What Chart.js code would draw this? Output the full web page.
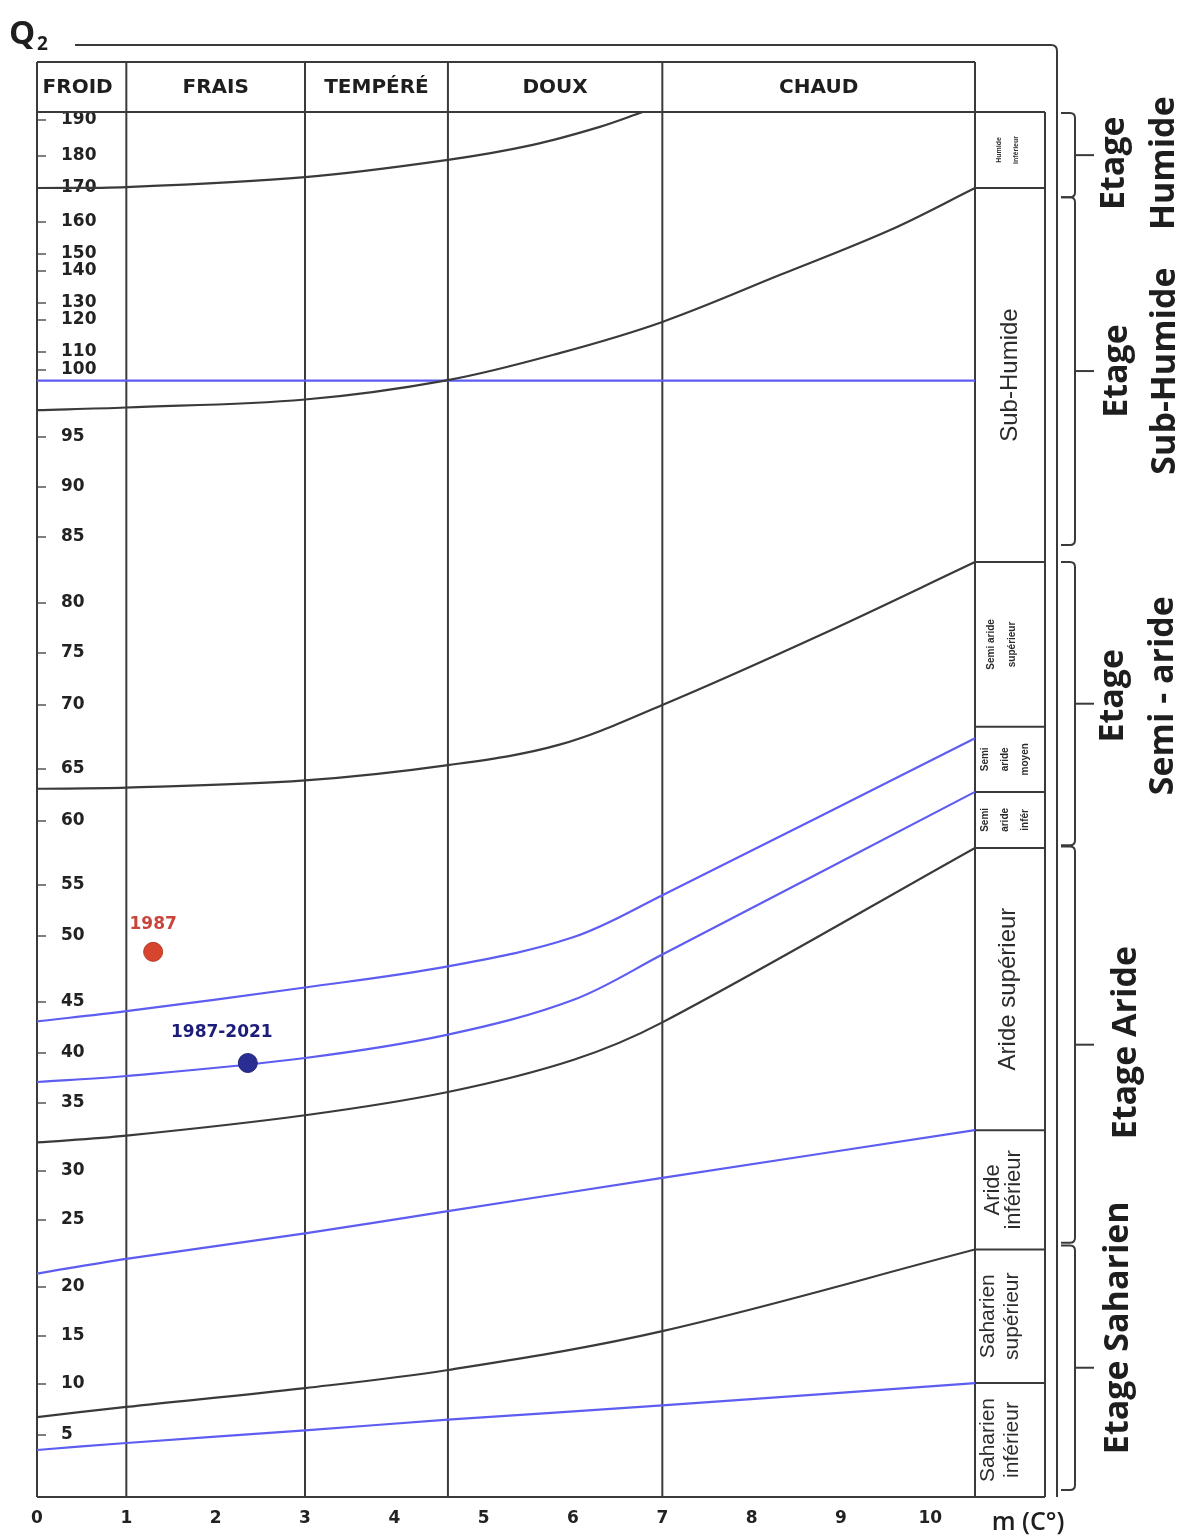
<!DOCTYPE html>
<html>
<head>
<meta charset="utf-8">
<script src="https://cdn.jsdelivr.net/npm/chart.js@4.4.1/dist/chart.umd.min.js"></script>
<style>
html,body{margin:0;padding:0;background:#fff;}
#wrap{width:1183px;height:1537px;position:relative;overflow:hidden;}
canvas{display:block;}
</style>
</head>
<body>
<div id="wrap"><canvas id="c" width="1183" height="1537"></canvas></div>
<script>
// ---------------- DATA ----------------
// temperature classes (m, °C) and their limits
const M_CLASSES = ['FROID', 'FRAIS', 'TEMPÉRÉ', 'DOUX', 'CHAUD'];
const M_LIMITS  = [0, 1, 3, 4.6, 7, 10.5];
const X_TICKS   = [0, 1, 2, 3, 4, 5, 6, 7, 8, 9, 10];

// Q2 axis graduations (the printed scale is irregular)
const Y_TICKS = [5, 10, 15, 20, 25, 30, 35, 40, 45, 50, 55, 60, 65, 70, 75, 80, 85, 90, 95,
                 100, 110, 120, 130, 140, 150, 160, 170, 180, 190];
// graduation knots of the printed Q2 scale: value -> relative length along the axis
const Q_KNOTS = [-1.2, 5, 10, 15, 20, 25, 30, 35, 40, 45, 50, 55, 60, 65, 70, 75, 80, 85, 90, 95,
                 100, 110, 120, 130, 140, 150, 160, 170, 180, 190, 192.2];
const Q_KNOT_LEN = [0, 62, 113, 161, 210, 277, 326, 394, 444, 495, 561, 612, 676, 728, 792, 844, 894, 960, 1010, 1060,
                    1127, 1145, 1177, 1194, 1226, 1243, 1275, 1309, 1341, 1377, 1385];

// limit curves (m in °C, Q2)
const humideInf_m = [0, 1, 3, 4.6, 5.55, 6.3, 6.78];
const humideInf_q = [170.0, 170.3, 173.4, 178.8, 183.1, 188.1, 192.2];
const subHumide_m = [0, 1, 3, 4.6, 5.85, 7, 8.32, 9.55, 10.5];
const subHumide_q = [97.0, 97.2, 97.8, 99.25, 109.4, 119.4, 138.8, 157.5, 170.0];
const semiSup_m   = [0, 1, 3, 4.6, 5.85, 7, 8.77, 10.5];
const semiSup_q   = [63.1, 63.2, 63.9, 65.3, 66.9, 70.0, 76.8, 83.1];
const arideSup_m  = [0, 1, 3, 4.6, 6, 7, 10.5];
const arideSup_q  = [32.1, 32.6, 34.1, 36.1, 39.3, 43.0, 57.9];
const saharSup_m  = [0, 1, 3, 4.6, 7, 10.5];
const saharSup_q  = [6.76, 7.75, 9.6, 11.46, 15.5, 22.8];

const blue100_m = [0, 10.5];
const blue100_q = [99.2, 99.2];
const blueSemiMoy_m = [0, 1, 3, 4.6, 6, 7, 10.5];
const blueSemiMoy_q = [43.1, 44.1, 46.1, 47.7, 49.9, 54.0, 67.4];
const blueSemiInf_m = [0, 1, 3, 4.6, 6, 7, 10.5];
const blueSemiInf_q = [37.1, 37.7, 39.5, 41.8, 45.15, 48.6, 62.8];
const blueArideInf_m = [0, 1, 3, 4.6, 7, 10.5];
const blueArideInf_q = [21.0, 22.1, 24.0, 25.9, 29.3, 33.0];
const blueSaharInf_m = [0, 1, 3, 4.6, 7, 10.5];
const blueSaharInf_q = [3.5, 4.2, 5.45, 6.5, 7.9, 10.1];

// station points
const POINT_LABELS = ['1987', '1987-2021'];
const POINT_M = [1.3, 2.36];
const POINT_Q = [48.8, 39.0];

// bioclimatic sub-zones (right column), top to bottom, limits in Q2
const ZONE_LIMITS = [192.2, 170, 83.1, 68.3, 62.8, 57.9, 33.0, 22.8, 10.1, -1.2];
const ZONE_LABELS = [['Humide', 'inférieur'], ['Sub-Humide'], ['Semi aride', 'supérieur'],
                     ['Semi', 'aride', 'moyen'], ['Semi', 'aride', 'infér'], ['Aride supérieur'],
                     ['Aride', 'inférieur'], ['Saharien', 'supérieur'], ['Saharien', 'inférieur']];

// étages (brackets), top/bottom in Q2
const ETAGE_NAMES  = [['Etage', 'Humide'], ['Etage', 'Sub-Humide'], ['Etage', 'Semi - aride'], ['Etage Aride'], ['Etage Saharien']];
const ETAGE_TOP    = [191.9, 167.3, 83.1, 58.0, 23.1];
const ETAGE_BOTTOM = [167.3, 84.4, 58.1, 23.3, -0.5];

// ---------------- CUSTOM Q2 SCALE ----------------
const LEN_TOTAL = Q_KNOT_LEN[Q_KNOT_LEN.length - 1];
function qToFrac(q) {
  const n = Q_KNOTS.length;
  let i = 1;
  while (i < n - 1 && q > Q_KNOTS[i]) i++;
  const t = (q - Q_KNOTS[i - 1]) / (Q_KNOTS[i] - Q_KNOTS[i - 1]);
  return (Q_KNOT_LEN[i - 1] + t * (Q_KNOT_LEN[i] - Q_KNOT_LEN[i - 1])) / LEN_TOTAL;
}
function fracToQ(f) {
  const L = f * LEN_TOTAL, n = Q_KNOT_LEN.length;
  let i = 1;
  while (i < n - 1 && L > Q_KNOT_LEN[i]) i++;
  const t = (L - Q_KNOT_LEN[i - 1]) / (Q_KNOT_LEN[i] - Q_KNOT_LEN[i - 1]);
  return Q_KNOTS[i - 1] + t * (Q_KNOTS[i] - Q_KNOTS[i - 1]);
}
class EmbergerScale extends Chart.LinearScale {
  determineDataLimits() { this.min = Q_KNOTS[0]; this.max = Q_KNOTS[Q_KNOTS.length - 1]; }
  buildTicks() { return Y_TICKS.map(v => ({ value: v })); }
  getPixelForValue(v) { return this.getPixelForDecimal(qToFrac(v)); }
  getValueForPixel(p) { return fracToQ(this.getDecimalForPixel(p)); }
}
EmbergerScale.id = 'emberger';
EmbergerScale.defaults = Chart.LinearScale.defaults;
Chart.register(EmbergerScale);

// ---------------- STYLES ----------------
const DARK = '#3a3a3a';
const BLUE = '#5d5df2';
const NUM_FONT = "'DejaVu Sans', sans-serif";
const TXT_FONT = "'Liberation Sans', Arial, sans-serif";
const BOLD_FONT = "'Open Sans', 'DejaVu Sans', sans-serif";

function curve(m, q, color) {
  return {
    data: m.map((v, i) => ({ x: v, y: q[i] })),
    borderColor: color, borderWidth: 2.2, pointRadius: 0,
    fill: false, tension: 0.35, order: 2
  };
}

// ---------------- DECORATION PLUGIN ----------------
function line(ctx, x1, y1, x2, y2) { ctx.beginPath(); ctx.moveTo(x1, y1); ctx.lineTo(x2, y2); ctx.stroke(); }
function rotText(ctx, lines, cx, cy, spacing) {
  ctx.save();
  ctx.translate(cx, cy);
  ctx.rotate(-Math.PI / 2);
  ctx.textAlign = 'center'; ctx.textBaseline = 'middle';
  const off = (lines.length - 1) * spacing / 2;
  lines.forEach((l, i) => ctx.fillText(l, 0, i * spacing - off));
  ctx.restore();
}

const ZONE_STYLE = [
  { size: 7, sp: 17, dx: -2, bold: true }, { size: 24, sp: 0, dx: 0 }, { size: 10, sp: 21, dx: -8, bold: true },
  { size: 10, sp: 20, dx: -5, bold: true }, { size: 10, sp: 20, dx: -5, bold: true }, { size: 24, sp: 0, dx: -2 },
  { size: 22, sp: 21, dx: -7 }, { size: 21, sp: 24, dx: -10 }, { size: 21, sp: 24, dx: -10 }
];
const ETAGE_STYLE = [
  { x: 1114, sp: 50, dy: 8 }, { x: 1117, sp: 48, dy: 0 }, { x: 1113, sp: 50, dy: -8 },
  { x: 1126, sp: 0, dy: -2 }, { x: 1118, sp: 0, dy: -40 }
];

const decor = {
  id: 'decor',
  beforeDatasetsDraw(chart) {
    const { ctx, chartArea: a, scales: { x, y } } = chart;
    const headTop = a.top - 50, frameTop = a.top - 67, colR = a.right + 70, frameR = a.right + 82;
    ctx.save();
    ctx.strokeStyle = DARK; ctx.lineWidth = 2; ctx.lineCap = 'butt';
    // outer frame
    ctx.beginPath();
    ctx.moveTo(75, frameTop); ctx.lineTo(frameR - 6, frameTop);
    ctx.quadraticCurveTo(frameR, frameTop, frameR, frameTop + 6);
    ctx.lineTo(frameR, a.bottom); ctx.stroke();
    // header and box
    line(ctx, a.left, headTop, a.right, headTop);
    line(ctx, a.left, a.top, colR, a.top);
    line(ctx, a.left, a.bottom, colR, a.bottom);
    line(ctx, a.left, headTop, a.left, a.bottom);
    line(ctx, colR, a.top, colR, a.bottom);
    M_LIMITS.slice(1).forEach(m => { const px = x.getPixelForValue(m); line(ctx, px, headTop, px, a.bottom); });
    // zone dividers
    ZONE_LIMITS.slice(1, -1).forEach(q => { const py = y.getPixelForValue(q); line(ctx, a.right, py, colR, py); });
    // y tick dashes
    ctx.lineWidth = 1.5; ctx.strokeStyle = '#555';
    Y_TICKS.forEach(v => { const py = y.getPixelForValue(v); line(ctx, a.left + 1, py, a.left + 9, py); });
    // header labels
    ctx.fillStyle = '#1e1e1e';
    ctx.font = "bold 20px " + NUM_FONT; ctx.textAlign = 'center'; ctx.textBaseline = 'middle';
    M_CLASSES.forEach((c, i) => {
      const x1 = x.getPixelForValue(M_LIMITS[i]), x2 = x.getPixelForValue(M_LIMITS[i + 1]);
      ctx.fillText(c, (x1 + x2) / 2 - (i === 0 ? 4 : 0), (headTop + a.top) / 2 + 1);
    });
    // Q2 title
    ctx.textAlign = 'left'; ctx.textBaseline = 'alphabetic';
    ctx.font = "bold 33px " + BOLD_FONT; ctx.fillText('Q', 9, 44);
    ctx.font = "bold 19px " + BOLD_FONT; ctx.fillText('2', 37, 50);
    // m (C°)
    ctx.font = "600 25px " + BOLD_FONT; ctx.textAlign = 'center'; ctx.textBaseline = 'middle';
    ctx.fillText('m (C°)', a.right + 53, a.bottom + 26);
    // zone labels
    ctx.fillStyle = '#2c2c2c';
    ZONE_LABELS.forEach((lines, i) => {
      const st = ZONE_STYLE[i];
      const y1 = y.getPixelForValue(ZONE_LIMITS[i]), y2 = y.getPixelForValue(ZONE_LIMITS[i + 1]);
      ctx.font = (st.bold ? 'bold ' : '') + st.size + 'px ' + TXT_FONT;
      rotText(ctx, lines, (a.right + colR) / 2 + st.dx, (y1 + y2) / 2, st.sp);
    });
    // brackets
    ctx.strokeStyle = DARK; ctx.lineWidth = 2;
    const bx = a.right + 100;
    ETAGE_NAMES.forEach((names, i) => {
      const t = y.getPixelForValue(ETAGE_TOP[i]), b = y.getPixelForValue(ETAGE_BOTTOM[i]);
      const mid = (t + b) / 2;
      ctx.beginPath();
      ctx.moveTo(bx - 14, t); ctx.lineTo(bx - 5, t); ctx.quadraticCurveTo(bx, t, bx, t + 5);
      ctx.lineTo(bx, b - 5); ctx.quadraticCurveTo(bx, b, bx - 5, b); ctx.lineTo(bx - 14, b);
      ctx.stroke();
      line(ctx, bx, mid, bx + 19, mid);
      const st = ETAGE_STYLE[i];
      ctx.fillStyle = '#1e1e1e';
      ctx.font = "bold 34px " + BOLD_FONT;
      rotText(ctx, names, st.x + (names.length - 1) * st.sp / 2, mid + st.dy, st.sp);
    });
    ctx.restore();
  },
  afterDatasetsDraw(chart) {
    const { ctx } = chart;
    const idx = chart.data.datasets.findIndex(d => d.id === 'stations');
    const meta = chart.getDatasetMeta(idx);
    const offs = [[0, -27], [-26, -30]];
    const cols = ['#c8453c', '#1c1c7a'];
    ctx.save();
    ctx.font = "bold 17px " + NUM_FONT; ctx.textAlign = 'center'; ctx.textBaseline = 'middle';
    meta.data.forEach((pt, i) => {
      ctx.fillStyle = cols[i];
      ctx.fillText(POINT_LABELS[i], pt.x + offs[i][0], pt.y + offs[i][1]);
    });
    ctx.restore();
  }
};

// ---------------- CHART ----------------
new Chart(document.getElementById('c'), {
  type: 'line',
  data: {
    datasets: [
      curve(humideInf_m, humideInf_q, DARK),
      curve(subHumide_m, subHumide_q, DARK),
      curve(semiSup_m, semiSup_q, DARK),
      curve(arideSup_m, arideSup_q, DARK),
      curve(saharSup_m, saharSup_q, DARK),
      curve(blue100_m, blue100_q, BLUE),
      curve(blueSemiMoy_m, blueSemiMoy_q, BLUE),
      curve(blueSemiInf_m, blueSemiInf_q, BLUE),
      curve(blueArideInf_m, blueArideInf_q, BLUE),
      curve(blueSaharInf_m, blueSaharInf_q, BLUE),
      {
        id: 'stations',
        data: POINT_M.map((m, i) => ({ x: m, y: POINT_Q[i] })),
        showLine: false, pointRadius: 9.5,
        backgroundColor: ['#d6462f', '#2a2e92'],
        borderColor: ['#b83a28', '#22267a'], borderWidth: 1, order: 1
      }
    ]
  },
  options: {
    responsive: false, animation: false, events: [],
    layout: { padding: { left: 37, top: 112, right: 208, bottom: 0 } },
    plugins: { legend: { display: false }, tooltip: { enabled: false } },
    scales: {
      x: {
        type: 'linear', min: 0, max: 10.5,
        grid: { display: false, drawTicks: false }, border: { display: false },
        afterFit: s => { s.height = 40; },
        afterBuildTicks: s => { s.ticks = X_TICKS.map(v => ({ value: v })); },
        ticks: { padding: 11, autoSkip: false, maxRotation: 0, color: '#222',
                 font: { family: NUM_FONT, size: 17, weight: 'bold' } }
      },
      y: {
        type: 'emberger',
        grid: { display: false, drawTicks: false }, border: { display: false },
        afterFit: s => { s.width = 0; },
        ticks: { mirror: true, padding: 24, autoSkip: false, color: '#222',
                 font: { family: NUM_FONT, size: 17, weight: 'bold' },
                 callback: v => String(v) }
      }
    }
  },
  plugins: [decor]
});
</script>
</body>
</html>
